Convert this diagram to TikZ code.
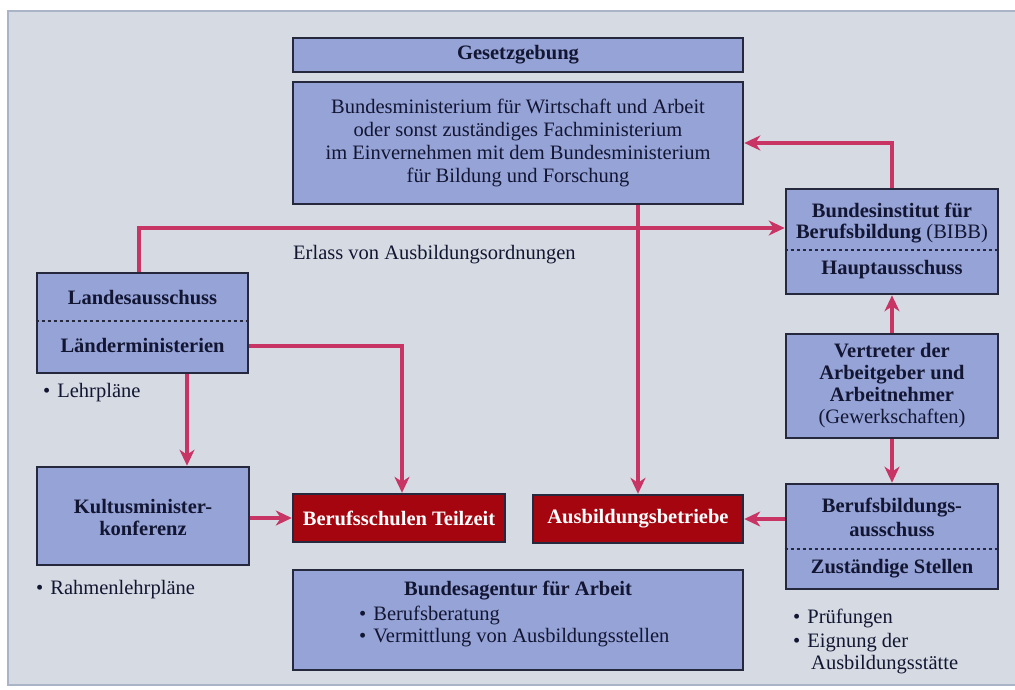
\documentclass[tikz,border=0pt]{standalone}
\usepackage{fontspec}
\setmainfont{Liberation Serif}
\usetikzlibrary{arrows.meta}
\definecolor{bg}{RGB}{214,219,227}
\definecolor{boxfill}{RGB}{150,163,215}
\definecolor{boxline}{RGB}{38,40,62}
\definecolor{redbox}{RGB}{165,5,15}
\definecolor{arr}{RGB}{200,52,100}
\definecolor{txt}{RGB}{18,22,50}
\definecolor{framec}{RGB}{170,180,200}
\newcommand{\fs}{\fontsize{20.5}{23}\selectfont}
\begin{document}
\begin{tikzpicture}[x=1pt,y=-1pt,
 box/.style={draw=boxline,line width=2.6pt,fill=boxfill,rectangle,inner sep=0pt,text=txt,align=center,font=\fs\bfseries},
 rbox/.style={draw=boxline,line width=2.4pt,fill=redbox,rectangle,inner sep=0pt,text=white,font=\fs\bfseries},
 conn/.style={draw=arr,line width=3.5pt,-{Stealth[length=16pt,width=15pt,inset=5pt]}},
 lbl/.style={text=txt,font=\fs,inner sep=0pt,text height=14.5pt,text depth=4.5pt},
 blbl/.style={lbl,font=\fs\bfseries},
 dline/.style={draw=boxline,line width=2pt,dash pattern=on 3pt off 3pt}
]
\useasboundingbox (0,0) rectangle (1015,690);
\fill[white] (0,0) rectangle (1015,690);
\draw[draw=framec,fill=bg,line width=1.5pt] (8,11) rectangle (1030,685);

% boxes
\node[box,minimum width=450pt,minimum height=34pt] (gesetz) at (518,55) {Gesetzgebung};
\node[box,minimum width=450pt,minimum height=122pt,font=\fs\mdseries] (bm) at (518,143)
 {Bundesministerium für Wirtschaft und Arbeit\\oder sonst zuständiges Fachministerium\\im Einvernehmen mit dem Bundesministerium\\für Bildung und Forschung};

\node[box,minimum width=212pt,minimum height=105pt] (bibb) at (892,241.5) {};
\node[blbl] (bibb1) at (892,212) {Bundesinstitut für};
\node[blbl] (bibb2) at (892,233) {Berufsbildung \mdseries(BIBB)};
\node[blbl] (bibb3) at (892,269) {Hauptausschuss};
\coordinate (bd1) at (892,250);
\draw[dline] (bd1 -| bibb.west) -- (bd1 -| bibb.east);

\node[box,minimum width=212pt,minimum height=104pt,font=\fontsize{20.5}{22}\selectfont\bfseries] (vert) at (892,386)
 {Vertreter der\\Arbeitgeber und\\Arbeitnehmer\\\mdseries(Gewerkschaften)};

\node[box,minimum width=212pt,minimum height=105pt] (bba) at (892,536.5) {};
\node[blbl] (bba1) at (892,507) {Berufsbildungs-};
\node[blbl] (bba2) at (892,531) {ausschuss};
\node[blbl] (bba3) at (892,568) {Zuständige Stellen};
\coordinate (bd2) at (892,549);
\draw[dline] (bd2 -| bba.west) -- (bd2 -| bba.east);

\node[box,minimum width=211pt,minimum height=100pt] (land) at (142.5,323) {};
\node[blbl] (land1) at (142.5,299) {Landesausschuss};
\node[blbl] (land2) at (142.5,347) {Länderministerien};
\coordinate (bd3) at (142.5,321);
\draw[dline] (bd3 -| land.west) -- (bd3 -| land.east);

\node[box,minimum width=212pt,minimum height=98pt] (kmk) at (143,516) {};
\node[blbl] (kmk1) at (143,508) {Kultusminister-};
\node[blbl] (kmk2) at (143,530) {konferenz};

\node[rbox,minimum width=212pt,minimum height=48pt] (bs) at (399,518) {Berufsschulen Teilzeit};
\node[rbox,minimum width=210pt,minimum height=48pt] (ab) at (638,519) {Ausbildungsbetriebe};

\node[box,minimum width=450pt,minimum height=100pt] (ba) at (518,620) {};
\node[blbl] (ba1) at (518,590) {Bundesagentur für Arbeit};
\node[lbl,anchor=west] (ba2) at (359,615) {•\hspace{7pt}Berufsberatung};
\node[lbl,anchor=west] (ba3) at (359,637) {•\hspace{7pt}Vermittlung von Ausbildungsstellen};

% free labels
\node[lbl,anchor=west] (erltxt) at (293,254) {Erlass von Ausbildungsordnungen};
\node[lbl,anchor=west] (lp) at (43,392) {•\hspace{7pt}Lehrpläne};
\node[lbl,anchor=west] (rlp) at (36,589) {•\hspace{7pt}Rahmenlehrpläne};
\node[lbl,anchor=west] (pr1) at (793,618) {•\hspace{7pt}Prüfungen};
\node[lbl,anchor=west] (pr2) at (793,642) {•\hspace{7pt}Eignung der};
\node[lbl,anchor=west] (pr3) at (811,664) {Ausbildungsstätte};

% connectors
\draw[conn] (bibb.north) |- (bm.east);
\coordinate (erl) at (139,228);
\draw[conn] (land.north -| erl) -- (erl) -- (erl -| bibb.west);
\coordinate (lm) at (402,346);
\draw[conn] (land.east |- lm) -- (lm) -- (lm |- bs.north);
\coordinate (lk) at (187,420);
\draw[conn] (land.south -| lk) -- (kmk.north -| lk);
\draw[conn] (kmk.east |- bs.west) -- (bs.west);
\draw[conn] (bm.south -| ab.north) -- (ab.north);
\draw[conn] (vert.north) -- (bibb.south);
\draw[conn] (vert.south) -- (bba.north);
\draw[conn] (bba.west |- ab.east) -- (ab.east);
\end{tikzpicture}
\end{document}
